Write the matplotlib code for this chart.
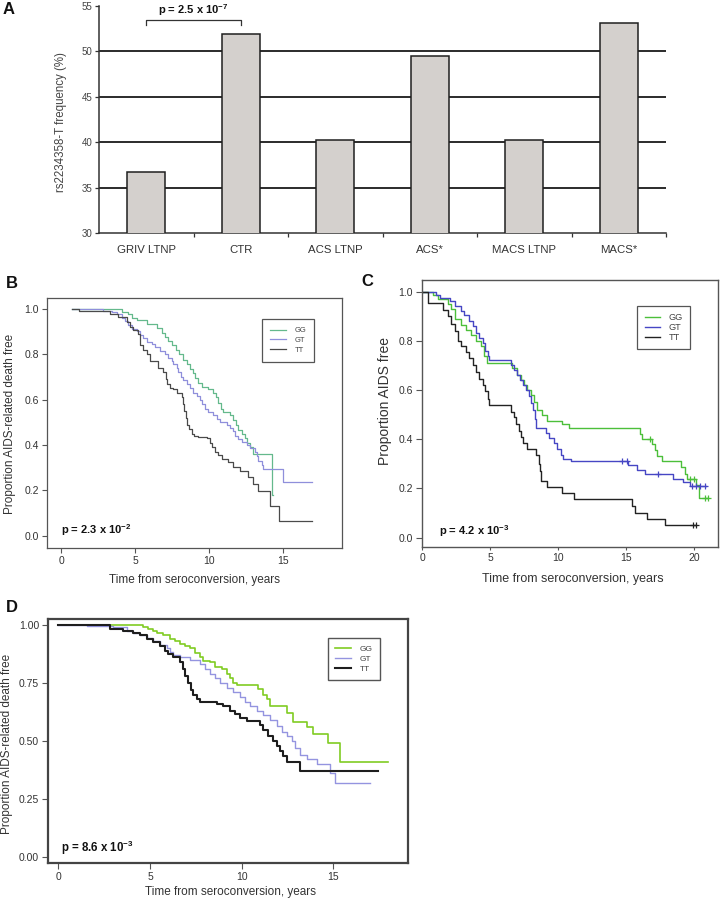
"""Recreation of a four-panel figure: allele frequency bars (A) and
Kaplan-Meier curves by genotype for three cohorts (B, C, D)."""

import matplotlib

matplotlib.use("Agg")
import matplotlib.pyplot as plt

plt.rcParams["font.family"] = ["Liberation Sans", "DejaVu Sans"]
plt.rcParams["mathtext.fontset"] = "custom"
plt.rcParams["mathtext.rm"] = "Liberation Sans"
plt.rcParams["mathtext.it"] = "Liberation Sans:italic"
plt.rcParams["mathtext.bf"] = "Liberation Sans:bold"

TXT = "#333333"

# ---------------- Panel A: rs2234358-T frequency per cohort ----------------
groups = ["GRIV LTNP", "CTR", "ACS LTNP", "ACS*", "MACS LTNP", "MACS*"]
t_freq = [36.75, 51.9, 40.3, 49.45, 40.3, 53.1]
a_grid = [35, 40, 45, 50]
a_yticks = [30, 35, 40, 45, 50, 55]
a_pvalue = r"p = 2.5 x 10$^{\mathbf{-7}}$"

# ---------------- Panel B: AIDS-related death free ----------------
b_gg_t = [0.72, 4.10, 4.50, 4.77, 5.11, 5.79, 6.46, 6.80, 7.03, 7.25, 7.48, 7.75,
          7.97, 8.22, 8.49, 8.72, 8.90, 9.05, 9.28, 9.50, 9.95, 10.29, 10.47, 10.63,
          10.79, 10.97, 11.42, 11.64, 11.80, 11.98, 12.21, 12.43, 12.59, 12.77, 13.00,
          14.23, 14.35]
b_gg_s = [1.0, 0.985, 0.975, 0.96, 0.95, 0.935, 0.915, 0.895, 0.875, 0.86, 0.84, 0.82,
          0.80, 0.775, 0.755, 0.735, 0.715, 0.695, 0.675, 0.655, 0.645, 0.63, 0.61, 0.585,
          0.56, 0.545, 0.53, 0.51, 0.49, 0.465, 0.45, 0.43, 0.41, 0.39, 0.36,
          0.18, 0.18]
b_gt_t = [0.72, 2.86, 3.42, 3.76, 4.10, 4.32, 4.55, 4.77, 5.11, 5.34, 5.56, 5.79,
          6.13, 6.35, 6.69, 7.03, 7.25, 7.48, 7.59, 7.82, 7.93, 8.09, 8.27, 8.49,
          8.72, 8.94, 9.17, 9.39, 9.55, 9.73, 9.95, 10.29, 10.52, 10.74, 11.19, 11.42,
          11.64, 11.76, 11.98, 12.21, 12.55, 12.77, 13.11, 13.22, 13.33, 13.56, 13.67,
          14.98, 16.94]
b_gt_s = [1.0, 0.99, 0.985, 0.975, 0.96, 0.945, 0.93, 0.91, 0.90, 0.885, 0.87, 0.855,
          0.845, 0.83, 0.815, 0.80, 0.785, 0.77, 0.755, 0.74, 0.72, 0.70, 0.685, 0.67,
          0.65, 0.63, 0.615, 0.60, 0.58, 0.56, 0.545, 0.53, 0.515, 0.50, 0.49, 0.475,
          0.46, 0.44, 0.425, 0.415, 0.40, 0.385, 0.37, 0.35, 0.33, 0.31, 0.294,
          0.235, 0.235]
b_tt_t = [0.72, 1.24, 3.31, 3.87, 4.44, 4.66, 4.89, 5.23, 5.34, 5.56, 5.79, 6.01,
          6.58, 6.91, 7.07, 7.18, 7.36, 7.59, 7.82, 8.15, 8.22, 8.31, 8.42, 8.54,
          8.67, 8.83, 8.99, 9.28, 9.84, 10.07, 10.18, 10.41, 10.63, 10.86, 11.31, 11.64,
          12.09, 12.66, 12.99, 13.33, 14.12, 14.75, 16.94]
b_tt_s = [1.0, 0.99, 0.975, 0.965, 0.94, 0.92, 0.905, 0.89, 0.84, 0.82, 0.80, 0.77,
          0.74, 0.72, 0.69, 0.67, 0.65, 0.645, 0.63, 0.61, 0.58, 0.55, 0.52, 0.49,
          0.47, 0.45, 0.44, 0.435, 0.43, 0.41, 0.39, 0.37, 0.355, 0.34, 0.325, 0.305,
          0.285, 0.26, 0.23, 0.195, 0.13, 0.065, 0.065]
b_pvalue = r"p = 2.3 x 10$^{\mathbf{-2}}$"

# ---------------- Panel C: AIDS free ----------------
c_gg_t = [0, 0.78, 1.15, 1.88, 2.12, 2.37, 2.85, 3.22, 3.59, 3.95, 4.32, 4.56, 4.76,
          6.63, 7.0, 7.24, 7.49, 7.73, 7.98, 8.22, 8.46, 8.83, 9.2, 10.29, 10.78,
          16.02, 16.15, 16.9, 17.1, 17.3, 17.61, 19.07, 19.32, 19.51, 20.17, 20.37, 21.02]
c_gg_s = [1.0, 0.986, 0.97, 0.95, 0.93, 0.89, 0.865, 0.845, 0.825, 0.80, 0.78, 0.74, 0.71,
          0.69, 0.66, 0.64, 0.62, 0.60, 0.58, 0.55, 0.52, 0.50, 0.475, 0.46, 0.445,
          0.42, 0.40, 0.38, 0.355, 0.33, 0.31, 0.285, 0.26, 0.24, 0.215, 0.16, 0.16]
c_gt_t = [0, 1.02, 1.27, 2.0, 2.37, 2.85, 3.1, 3.46, 3.71, 3.95, 4.2, 4.44, 4.61, 4.8,
          4.93, 6.51, 6.76, 7.0, 7.2, 7.44, 7.61, 7.85, 8.02, 8.17, 8.27, 8.34, 9.07,
          9.32, 9.68, 9.93, 10.17, 10.37, 10.95, 15.17, 15.78, 16.39, 18.46, 19.2, 19.68,
          20.9]
c_gt_s = [1.0, 0.985, 0.975, 0.96, 0.94, 0.92, 0.905, 0.88, 0.86, 0.83, 0.81, 0.79, 0.76,
          0.74, 0.72, 0.70, 0.68, 0.66, 0.64, 0.62, 0.60, 0.575, 0.545, 0.52, 0.48, 0.445,
          0.425, 0.405, 0.385, 0.36, 0.335, 0.32, 0.31, 0.295, 0.275, 0.26, 0.24, 0.225,
          0.21, 0.21]
c_tt_t = [0, 0.41, 1.51, 1.88, 2.12, 2.37, 2.61, 2.85, 3.22, 3.46, 3.71, 3.95, 4.2, 4.44,
          4.61, 4.8, 4.93, 6.51, 6.76, 6.88, 7.12, 7.24, 7.37, 7.73, 8.34, 8.59, 8.63,
          8.71, 9.2, 10.29, 11.15, 15.41, 15.66, 16.51, 17.85, 20.17]
c_tt_s = [1.0, 0.953, 0.925, 0.90, 0.87, 0.84, 0.80, 0.78, 0.755, 0.73, 0.70, 0.675,
          0.645, 0.62, 0.595, 0.565, 0.54, 0.51, 0.49, 0.46, 0.435, 0.41, 0.385, 0.36,
          0.335, 0.30, 0.27, 0.23, 0.205, 0.18, 0.155, 0.13, 0.10, 0.075, 0.052, 0.052]
# censored observations (+)
c_gg_cens_t = [16.76, 19.68, 20.0, 20.78, 21.02]
c_gg_cens_s = [0.40, 0.24, 0.24, 0.16, 0.16]
c_gt_cens_t = [14.68, 15.05, 17.32, 19.88, 20.12, 20.41, 20.78]
c_gt_cens_s = [0.31, 0.31, 0.26, 0.21, 0.21, 0.21, 0.21]
c_tt_cens_t = [19.93, 20.17]
c_tt_cens_s = [0.052, 0.052]
c_pvalue = r"p = 4.2 x 10$^{\mathbf{-3}}$"

# ---------------- Panel D: AIDS-related death free ----------------
d_gg_t = [0, 4.64, 4.91, 5.18, 5.36, 5.73, 6.09, 6.36, 6.64, 6.91, 7.18, 7.45, 7.73,
          7.91, 8.27, 8.55, 8.91, 9.18, 9.36, 9.55, 9.73, 10.91, 11.18, 11.36, 11.55,
          12.45, 12.82, 13.55, 13.91, 14.73, 15.36, 18.0]
d_gg_s = [1.0, 0.99, 0.985, 0.975, 0.965, 0.955, 0.94, 0.93, 0.92, 0.91, 0.90, 0.88, 0.86,
          0.845, 0.84, 0.82, 0.81, 0.79, 0.77, 0.75, 0.74, 0.725, 0.70, 0.68, 0.65,
          0.62, 0.58, 0.56, 0.53, 0.49, 0.41, 0.41]
d_gt_t = [0, 1.55, 3.0, 3.73, 4.09, 4.45, 4.82, 5.18, 5.55, 5.91, 6.09, 6.27, 6.64, 7.18,
          7.73, 8.0, 8.27, 8.55, 8.82, 9.18, 9.55, 9.91, 10.18, 10.45, 10.82, 11.18,
          11.55, 11.91, 12.18, 12.45, 12.73, 12.91, 13.18, 13.55, 14.09, 14.82, 15.09, 17.0]
d_gt_s = [1.0, 0.997, 0.99, 0.975, 0.965, 0.955, 0.945, 0.93, 0.915, 0.90, 0.885, 0.87,
          0.86, 0.85, 0.83, 0.81, 0.79, 0.77, 0.75, 0.73, 0.71, 0.69, 0.67, 0.65, 0.63,
          0.61, 0.59, 0.565, 0.54, 0.52, 0.50, 0.47, 0.44, 0.42, 0.40, 0.36, 0.32, 0.32]
d_tt_t = [0, 2.82, 3.55, 4.09, 4.45, 4.82, 5.18, 5.55, 5.82, 6.0, 6.27, 6.64, 6.78, 6.91,
          7.05, 7.22, 7.36, 7.55, 7.73, 8.64, 9.0, 9.36, 9.64, 9.91, 10.27, 11.0, 11.18,
          11.45, 11.73, 11.91, 12.09, 12.27, 12.45, 13.18, 17.45]
d_tt_s = [1.0, 0.985, 0.975, 0.965, 0.955, 0.94, 0.925, 0.91, 0.89, 0.875, 0.86, 0.84,
          0.81, 0.78, 0.75, 0.72, 0.70, 0.68, 0.67, 0.66, 0.65, 0.63, 0.615, 0.60, 0.585,
          0.57, 0.545, 0.52, 0.50, 0.48, 0.455, 0.435, 0.41, 0.37, 0.37]
d_pvalue = r"p = 8.6 x 10$^{\mathbf{-3}}$"

genotypes = ["GG", "GT", "TT"]
XLABEL = "Time from seroconversion, years"


def style_km(ax, xlim, ylim, xticks, yticks, yfmt, lw, tick_len, tick_size):
    ax.set_xlim(*xlim)
    ax.set_ylim(*ylim)
    ax.set_xticks(xticks)
    ax.set_yticks(yticks)
    ax.set_yticklabels([yfmt.format(v) for v in yticks])
    for sp in ax.spines.values():
        sp.set_color("#555555")
        sp.set_linewidth(lw)
    ax.tick_params(direction="out", length=tick_len, width=0.8, color="#555555",
                   labelcolor=TXT, labelsize=tick_size, pad=2)


fig = plt.figure(figsize=(7.2, 9), dpi=100)

# ---------------- A ----------------
axA = fig.add_axes([0.1375, 0.7408, 0.7875, 0.2526])
xpos = list(range(len(groups)))
for g in a_grid:
    axA.axhline(g, color="#2b2b2b", lw=1.4, zorder=1)
axA.bar(xpos, t_freq, width=0.4, color="#d4d0cd", edgecolor="#1f1f1f",
        linewidth=1.1, zorder=3)
axA.set_xlim(-0.5, len(groups) - 0.5)
axA.set_ylim(30, 55)
axA.set_yticks(a_yticks)
axA.set_xticks([i + 0.5 for i in xpos])
axA.set_xticklabels([])
axA.set_xticks(xpos, minor=True)
axA.set_xticklabels(groups, minor=True)
axA.tick_params(axis="x", which="major", length=3, width=0.9, color="#333333")
axA.tick_params(axis="x", which="minor", length=0, pad=8.5, labelsize=8.2,
                labelcolor=TXT)
axA.tick_params(axis="y", length=3, width=0.9, color="#333333", labelsize=7,
                labelcolor="#444444", pad=1.5)
for side in ("top", "right"):
    axA.spines[side].set_visible(False)
for side in ("left", "bottom"):
    axA.spines[side].set_color("#333333")
    axA.spines[side].set_linewidth(1.1)
axA.set_ylabel("rs2234358-T frequency (%)", fontsize=8.3, color="#444444")
axA.yaxis.set_label_coords(-0.056, 0.49)
# significance bracket between GRIV LTNP and CTR
axA.plot([0, 0, 1, 1], [52.9, 53.4, 53.4, 52.9], color="#333333", lw=0.9,
         clip_on=False, zorder=4)
axA.text(0.5, 53.65, a_pvalue, ha="center", va="bottom", fontsize=8,
         fontweight="bold", color="#111111")

# ---------------- B ----------------
axB = fig.add_axes([0.0649, 0.3911, 0.4097, 0.2774])
b_cols = ["#64b98c", "#8f8fdb", "#4a4a4a"]
for t, s, col, lab in zip([b_gg_t, b_gt_t, b_tt_t], [b_gg_s, b_gt_s, b_tt_s],
                          b_cols, genotypes):
    axB.step(t, s, where="post", color=col, lw=0.9, label=lab)
style_km(axB, (-0.97, 18.97), (-0.054, 1.046), [0, 5, 10, 15],
         [0.0, 0.2, 0.4, 0.6, 0.8, 1.0], "{:.1f}", 0.9, 3.6, 7.5)
axB.set_ylabel("Proportion AIDS-related death free", fontsize=8.5, color=TXT)
axB.yaxis.set_label_coords(-0.104, 0.498)
axB.set_xlabel(XLABEL, fontsize=8.5, color=TXT)
axB.xaxis.set_label_coords(0.5, -0.104)
axB.text(0.0, -0.01, b_pvalue, fontsize=8, fontweight="bold", color="#111111",
         va="bottom")
legB = axB.legend(loc="upper right", bbox_to_anchor=(0.906, 0.917), borderaxespad=0,
                  fontsize=5.4, handlelength=2.2, handletextpad=1.1, labelspacing=0.35,
                  borderpad=1.05, fancybox=False, edgecolor="#555555", framealpha=1)
legB.get_frame().set_linewidth(0.9)
for txt in legB.get_texts():
    txt.set_color("#444444")

# ---------------- C ----------------
axC = fig.add_axes([0.5857, 0.3926, 0.4115, 0.2963])
c_cols = ["#4cbf3a", "#4646c4", "#222222"]
c_cens = [(c_gg_cens_t, c_gg_cens_s), (c_gt_cens_t, c_gt_cens_s),
          (c_tt_cens_t, c_tt_cens_s)]
for t, s, col, lab, cen in zip([c_gg_t, c_gt_t, c_tt_t], [c_gg_s, c_gt_s, c_tt_s],
                               c_cols, genotypes, c_cens):
    axC.step(t, s, where="post", color=col, lw=1.0, label=lab)
    axC.plot(cen[0], cen[1], ls="none", marker="+", ms=5, mew=0.9, color=col)
style_km(axC, (-0.05, 21.76), (-0.037, 1.047), [0, 5, 10, 15, 20],
         [0.0, 0.2, 0.4, 0.6, 0.8, 1.0], "{:.1f}", 1.0, 4.5, 7.5)
axC.tick_params(axis="x", length=2.5)
axC.set_ylabel("Proportion AIDS free", fontsize=10, color=TXT)
axC.yaxis.set_label_coords(-0.100, 0.547)
axC.set_xlabel(XLABEL, fontsize=9, color=TXT)
axC.xaxis.set_label_coords(0.51, -0.0986)
axC.text(1.2, -0.005, c_pvalue, fontsize=8, fontweight="bold", color="#111111",
         va="bottom")
legC = axC.legend(loc="upper right", bbox_to_anchor=(0.9055, 0.9025), borderaxespad=0,
                  fontsize=6.6, handlelength=1.7, handletextpad=0.9, labelspacing=0.08,
                  borderpad=0.8, fancybox=False, edgecolor="#555555", framealpha=1)
legC.get_frame().set_linewidth(0.9)
for txt in legC.get_texts():
    txt.set_color("#444444")

# ---------------- D ----------------
axD = fig.add_axes([0.0663, 0.0411, 0.5004, 0.2711])
d_cols = ["#80cc22", "#9494e0", "#1e1e1e"]
d_lw = [1.2, 1.0, 1.5]
for t, s, col, lab, w in zip([d_gg_t, d_gt_t, d_tt_t], [d_gg_s, d_gt_s, d_tt_s],
                             d_cols, genotypes, d_lw):
    axD.step(t, s, where="post", color=col, lw=w, label=lab)
style_km(axD, (-0.58, 19.08), (-0.027, 1.026), [0, 5, 10, 15],
         [0.0, 0.25, 0.5, 0.75, 1.0], "{:.2f}", 1.6, 4.3, 7.5)
for sp in axD.spines.values():
    sp.set_color("#444444")
axD.set_ylabel("Proportion AIDS-related death free", fontsize=8.5, color=TXT)
axD.yaxis.set_label_coords(-0.096, 0.49)
axD.set_xlabel(XLABEL, fontsize=8.5, color=TXT)
axD.xaxis.set_label_coords(0.506, -0.094)
axD.text(0.15, 0.0, d_pvalue, fontsize=8.3, fontweight="bold", color="#111111",
         va="bottom")
legD = axD.legend(loc="upper right", bbox_to_anchor=(0.9223, 0.9234), borderaxespad=0,
                  fontsize=6.0, handlelength=1.9, handletextpad=1.0, labelspacing=0.25,
                  borderpad=0.9, fancybox=False, edgecolor="#555555", framealpha=1)
legD.get_frame().set_linewidth(1.0)
for txt in legD.get_texts():
    txt.set_color("#444444")

# panel letters
for letter, x, y in [("A", 9, 10), ("B", 12, 284), ("C", 367, 282), ("D", 12, 607)]:
    fig.text(x / 720, 1 - y / 900, letter, fontsize=12, fontweight="bold",
             ha="center", va="center", color="#111111")

fig.savefig("out.png", dpi=100)
